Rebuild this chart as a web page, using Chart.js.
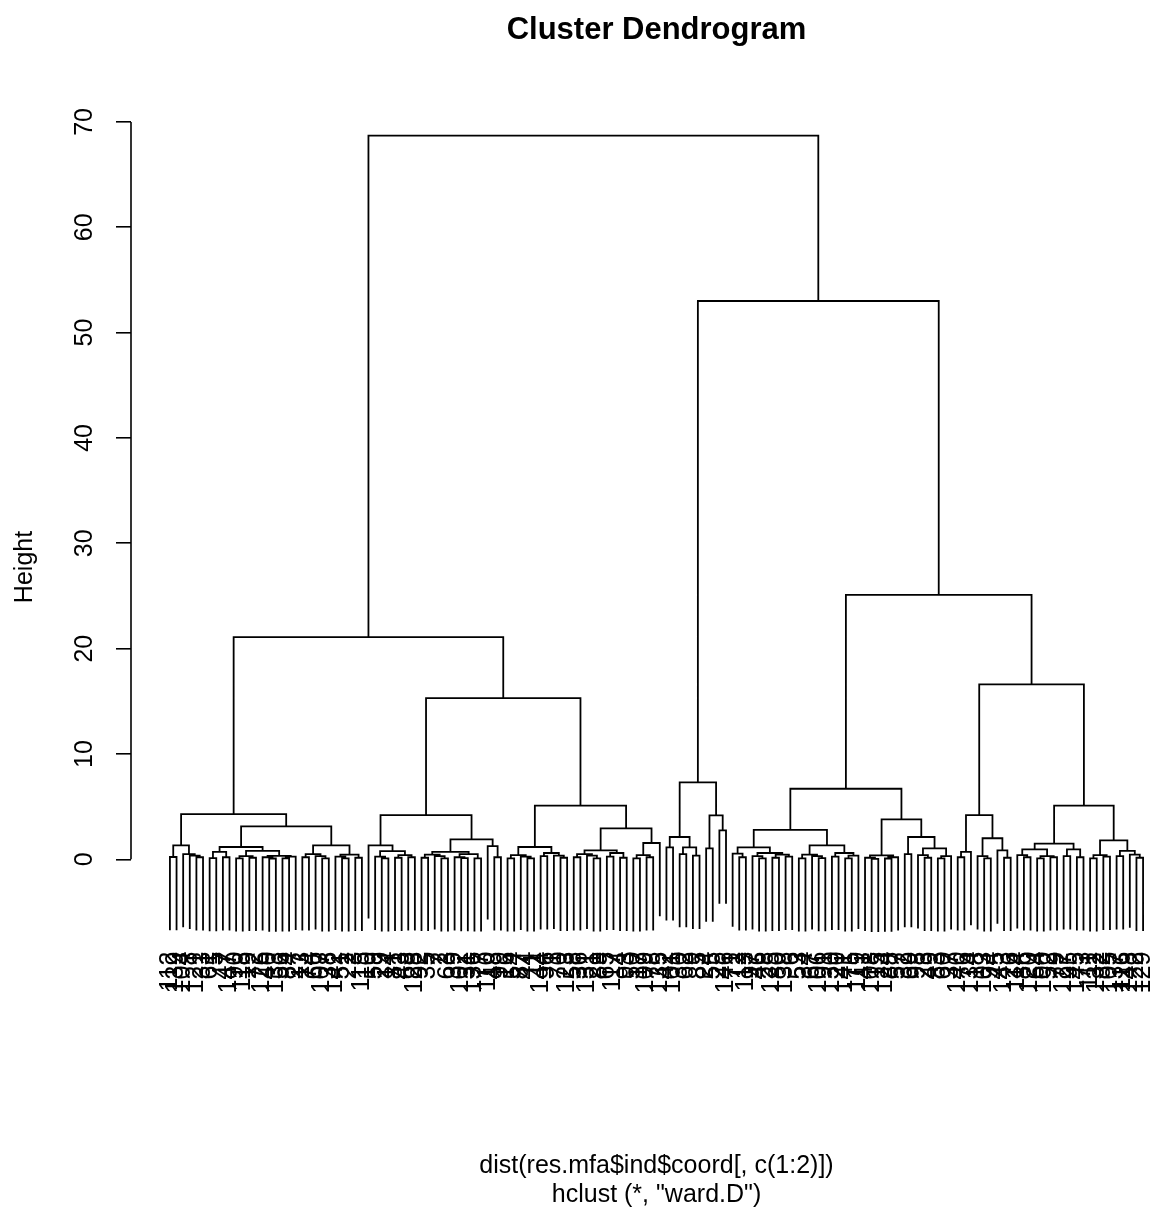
<!DOCTYPE html>
<html>
<head>
<title>Cluster Dendrogram</title>
<style>
  html, body { margin: 0; padding: 0; background: #fff; overflow: hidden; }
  #wrap { position: absolute; left: 0; top: 0; width: 1200px; height: 1218px; }
</style>
</head>
<body>
<div id="wrap"><canvas id="dendro"></canvas></div>
<script src="https://cdn.jsdelivr.net/npm/chart.js"></script>
<script>
// leaf labels, left to right (the order of the dendrogram)
const leafLabels = [
  112, 139, 104, 8, 121, 33, 61, 5, 47, 147,
  90, 118, 19, 72, 126, 40, 133, 56, 84, 27,
  13, 74, 66, 107, 38, 142, 51, 22, 3, 115,
  10, 59, 29, 14, 81, 43, 68, 128, 92, 35,
  7, 2, 63, 39, 102, 31, 136, 77, 110, 48,
  99, 16, 54, 87, 44, 11, 144, 96, 1, 70,
  123, 58, 36, 131, 21, 89, 65, 117, 4, 93,
  50, 17, 109, 78, 135, 42, 101, 30, 62, 9,
  85, 24, 55, 25, 146, 71, 12, 113, 97, 46,
  28, 125, 80, 138, 6, 53, 34, 67, 106, 91,
  130, 20, 141, 75, 119, 41, 108, 15, 124, 88,
  57, 32, 69, 98, 23, 49, 83, 60, 37, 140,
  76, 134, 18, 103, 94, 45, 143, 26, 114, 86,
  120, 64, 100, 52, 79, 127, 95, 145, 73, 111,
  132, 82, 105, 137, 116, 148, 122, 129
];

// merge tree: [height, left, right], 0 = a leaf (taken in order from leafLabels)
const leftLeft = [4.3,
  [1.33, [0.22, 0, 0], [0.5, 0, [0.35, 0, [0.2, 0, 0]]]],
  [3.13,
    [1.17, [0.7, [0.12, 0, 0], [0.2, 0, 0]],
           [0.8, [0.3, [0.1, 0, 0], [0.15, 0, 0]], [0.32, [0.2, 0, [0.08, 0, 0]], [0.25, [0.1, 0, 0], 0]]]],
    [1.33, [0.5, [0.2, 0, 0], [0.3, 0, [0.1, 0, 0]]], [0.45, [0.25, 0, [0.1, 0, 0]], [0.15, 0, 0]]]]];

const leftRight = [15.3,
  [4.2,
    [1.33, 0, [0.78, [0.25, 0, [0.1, 0, 0]], [0.4, [0.15, 0, 0], [0.2, 0, 0]]]],
    [1.9, [0.7, [0.45, [0.15, 0, 0], [0.3, 0, [0.1, 0, 0]]], [0.5, [0.2, 0, [0.12, 0, 0]], [0.1, 0, 0]]],
          [1.25, 0, [0.2, 0, 0]]]],
  [5.1,
    [1.17, [0.4, [0.1, 0, 0], [0.25, 0, [0.1, 0, 0]]], [0.6, [0.3, 0, 0], [0.35, 0, [0.15, 0, 0]]]],
    [2.94, [0.85, [0.5, [0.2, 0, 0], [0.35, 0, [0.1, 0, 0]]], [0.6, [0.25, 0, 0], [0.15, 0, 0]]],
           [1.55, [0.4, [0.1, 0, 0], [0.2, 0, 0]], 0]]]];

const middle = [7.3,
  [2.12, [1.14, 0, 0], [1.14, [0.5, 0, 0], [0.35, 0, 0]]],
  [4.17, [1.04, 0, 0], [2.75, 0, 0]]];

const rightA = [6.7,
  [2.8,
    [1.14, [0.55, 0, [0.2, 0, 0]], [0.6, [0.3, 0, [0.1, 0, 0]], [0.45, [0.15, 0, 0], [0.25, 0, 0]]]],
    [1.33, [0.45, [0.1, 0, 0], [0.3, 0, [0.12, 0, 0]]], [0.6, [0.25, 0, 0], [0.35, [0.1, 0, 0], 0]]]],
  [3.8,
    [0.38, [0.15, 0, [0.05, 0, 0]], [0.2, [0.08, 0, 0], 0]],
    [2.12, [0.5, 0, 0], [1.04, [0.4, 0, [0.15, 0, 0]], [0.3, [0.1, 0, 0], 0]]]]];

const rightB = [16.6,
  [4.2, [0.7, [0.2, 0, 0], 0], [2.0, [0.3, 0, [0.1, 0, 0]], [0.85, 0, [0.15, 0, 0]]]],
  [5.1,
    [1.5, [0.95, [0.4, 0, [0.2, 0, 0]], [0.3, [0.1, 0, 0], [0.2, 0, 0]]], [0.95, [0.3, 0, 0], [0.2, 0, 0]]],
    [1.8, [0.4, [0.1, 0, 0], [0.25, 0, 0]], [0.8, [0.3, 0, 0], [0.45, 0, [0.15, 0, 0]]]]]];

const tree = [68.7, [21.1, leftLeft, leftRight], [53.0, middle, [25.1, rightA, rightB]]];

const yTicks = [0, 10, 20, 30, 40, 50, 60, 70];
const hang = 0.1 * tree[0];   // R default hang = 0.1

// walk the tree and turn every merge into a little U of line points
const segments = [];
let leafCount = 0;
function place(node) {
  if (node === 0) return { x: ++leafCount, h: null };
  const h = node[0];
  const a = place(node[1]);
  const b = place(node[2]);
  segments.push(
    { x: a.x, y: a.h === null ? h - hang : a.h },
    { x: a.x, y: h },
    { x: b.x, y: h },
    { x: b.x, y: b.h === null ? h - hang : b.h },
    { x: b.x, y: null }
  );
  return { x: (a.x + b.x) / 2, h: h };
}
place(tree);
const n = leafCount;

const FONT = '"Liberation Sans", Arial, sans-serif';
Chart.defaults.font.family = FONT;
Chart.defaults.color = '#000';

// R draws the y axis line only between the first and last tick
const axisLine = {
  id: 'axisLine',
  afterDraw(chart) {
    const y = chart.scales.y;
    const ctx = chart.ctx;
    ctx.save();
    ctx.strokeStyle = '#000';
    ctx.lineWidth = 1.6;
    ctx.beginPath();
    ctx.moveTo(chart.chartArea.left, y.getPixelForValue(yTicks[0]));
    ctx.lineTo(chart.chartArea.left, y.getPixelForValue(yTicks[yTicks.length - 1]));
    ctx.stroke();
    ctx.restore();
  }
};

new Chart(document.getElementById('dendro'), {
  type: 'scatter',
  data: {
    datasets: [{
      data: segments,
      showLine: true,
      spanGaps: false,
      borderColor: '#000',
      borderWidth: 1.8,
      borderJoinStyle: 'miter',
      borderCapStyle: 'square',
      pointRadius: 0
    }]
  },
  options: {
    responsive: true,
    maintainAspectRatio: false,
    animation: false,
    events: [],
    layout: { padding: { left: 0, right: 18, top: 0, bottom: 0 } },
    plugins: {
      legend: { display: false },
      tooltip: { enabled: false },
      title: {
        display: true,
        text: 'Cluster Dendrogram',
        fullSize: false,
        color: '#000',
        font: { size: 31, weight: 'bold' },
        padding: { top: 12, bottom: 54.8 }
      },
      subtitle: {
        display: true,
        position: 'bottom',
        fullSize: false,
        text: ['dist(res.mfa$ind$coord[, c(1:2)])', 'hclust (*, "ward.D")'],
        color: '#000',
        font: { size: 25, lineHeight: 1.16 },
        padding: { top: 122, bottom: 8 }
      }
    },
    scales: {
      x: {
        type: 'linear',
        position: { y: -hang },
        min: 1 - 0.04 * (n - 1),
        max: n + 0.04 * (n - 1),
        grid: { display: false, drawTicks: false },
        border: { display: false },
        afterBuildTicks: s => { s.ticks = leafLabels.map((_, i) => ({ value: i + 1 })); },
        afterFit: s => { s.paddingLeft = 0; s.paddingRight = 0; },
        ticks: {
          autoSkip: false,
          minRotation: 90,
          maxRotation: 90,
          padding: 20,
          color: '#000',
          font: { size: 25 },
          callback: (v, i) => String(leafLabels[i])
        }
      },
      y: {
        type: 'linear',
        min: -16.2,
        max: 71.7,
        afterFit: s => { s.width = 131; },
        afterBuildTicks: s => { s.ticks = yTicks.map(v => ({ value: v })); },
        grid: { drawOnChartArea: false, drawTicks: true, tickLength: 15, color: '#000', lineWidth: 1.6 },
        border: { display: false },
        ticks: {
          minRotation: 90,
          maxRotation: 90,
          crossAlign: 'center',
          padding: 17,
          color: '#000',
          font: { size: 25 }
        },
        title: {
          display: true,
          text: 'Height',
          color: '#000',
          font: { size: 25 },
          padding: { top: 10, bottom: 0 }
        }
      }
    }
  },
  plugins: [axisLine]
});
</script>
</body>
</html>
